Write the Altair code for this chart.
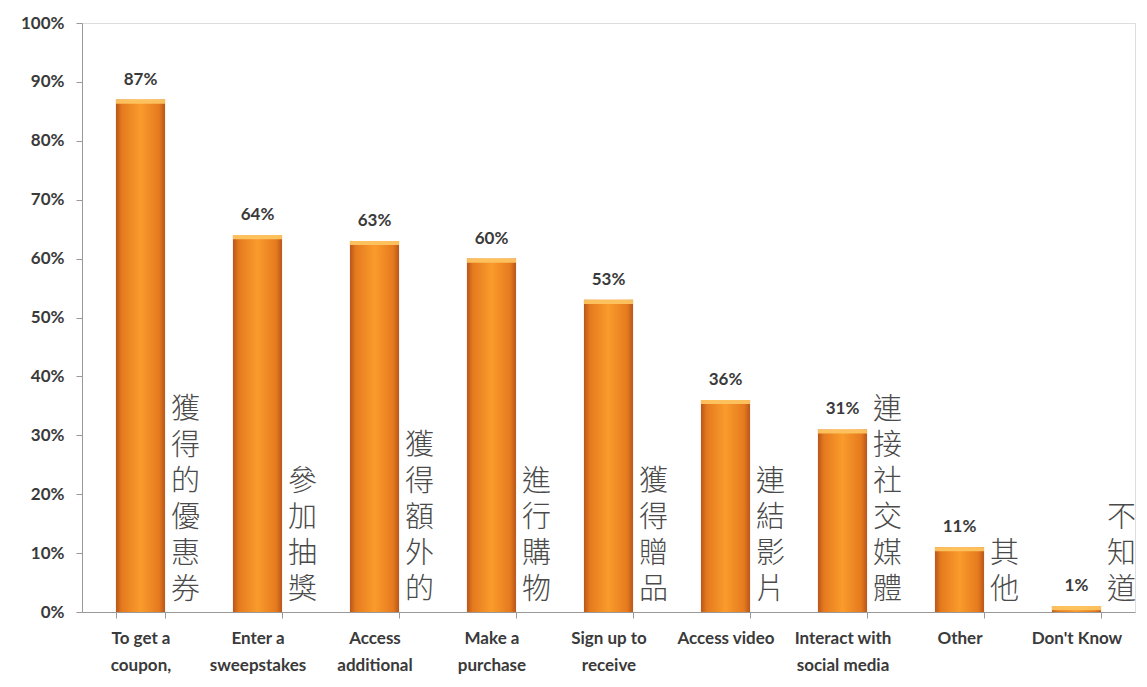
import altair as alt
import pandas as pd

categories = ["To get a|coupon,", "Enter a|sweepstakes", "Access|additional", "Make a|purchase",
              "Sign up to|receive", "Access video", "Interact with|social media", "Other", "Don't Know"]
values = [87, 64, 63, 60, 53, 36, 31, 11, 1]
value_labels = ["87%", "64%", "63%", "60%", "53%", "36%", "31%", "11%", "1%"]
chinese = ["獲得的優惠券", "參加抽獎", "獲得額外的", "進行購物", "獲得贈品", "連結影片", "連接社交媒體", "其他", "不知道"]

df = pd.DataFrame({"cat": categories, "value": values, "vlabel": value_labels})

# one row per Chinese character; k = line index counted from the bottom
rows = []
for c, s in zip(categories, chinese):
    n = len(s)
    for i, ch in enumerate(s):
        rows.append({"cat": c, "ch": ch, "k": n - 1 - i})
zh_df = pd.DataFrame(rows)

PLOT_W, PLOT_H, LINE_H = 1053, 589, 36

x_enc = alt.X("cat:N", sort=categories, title=None,
              scale=alt.Scale(paddingInner=0.58, paddingOuter=0.29),
              axis=alt.Axis(labelExpr="split(datum.label, '|')", labelAngle=0,
                            labelFont="Lato", labelFontWeight="bold", labelFontSize=17,
                            labelColor="#3a3a3a", labelLineHeight=27, labelPadding=12,
                            tickBand="extent", tickSize=6, tickColor="#999999",
                            domainColor="#999999", labelLimit=200))
y_scale = alt.Scale(domain=[0, 100])

grad = alt.Gradient(
    gradient="linear", x1=0, x2=1, y1=0, y2=0,
    stops=[alt.GradientStop(offset=0, color="#B9561A"),
           alt.GradientStop(offset=0.12, color="#E57A1E"),
           alt.GradientStop(offset=0.5, color="#FA9B2C"),
           alt.GradientStop(offset=0.88, color="#E57A1E"),
           alt.GradientStop(offset=1, color="#B9561A")])

base = alt.Chart(df)

bars = base.mark_bar(fill=grad).encode(
    x=x_enc,
    y=alt.Y("value:Q", scale=y_scale, title=None,
            axis=alt.Axis(values=list(range(0, 101, 10)), labelExpr="datum.value + '%'",
                          grid=False, labelFont="Lato", labelFontWeight="bold", labelFontSize=17,
                          labelColor="#3a3a3a", tickSize=6, tickColor="#999999",
                          domainColor="#999999", labelPadding=12)),
)

cap = base.transform_calculate(top0="max(datum.value - 0.7, 0)").mark_bar(
    fill="#FDC461", opacity=0.95
).encode(x=alt.X("cat:N", sort=categories),
         y=alt.Y("top0:Q", scale=y_scale, axis=None), y2="value:Q")

vtext = base.mark_text(font="Lato", fontWeight="bold", fontSize=17, color="#3a3a3a",
                       baseline="bottom", dy=-11).encode(
    x=alt.X("cat:N", sort=categories),
    y=alt.Y("value:Q", scale=y_scale, axis=None), text="vlabel:N")

zh = alt.Chart(zh_df).mark_text(font="Noto Sans CJK TC", fontSize=29, fontWeight=300,
                                color="#4a4a4a", baseline="bottom", dx=45, dy=-7).encode(
    x=alt.X("cat:N", sort=categories),
    y=alt.Y("k:Q", scale=alt.Scale(domain=[0, PLOT_H / LINE_H], nice=False), axis=None),
    text="ch:N")

chart = alt.layer(bars, cap, vtext, zh).resolve_scale(y="independent").properties(
    width=PLOT_W, height=PLOT_H,
    autosize=alt.AutoSizeParams(type="none"),
    padding={"left": 82, "top": 23, "right": 12, "bottom": 75},
).configure_view(strokeOpacity=0).configure(background="white")

chart.save("out.html", embed_options={"renderer": "svg", "actions": False})
